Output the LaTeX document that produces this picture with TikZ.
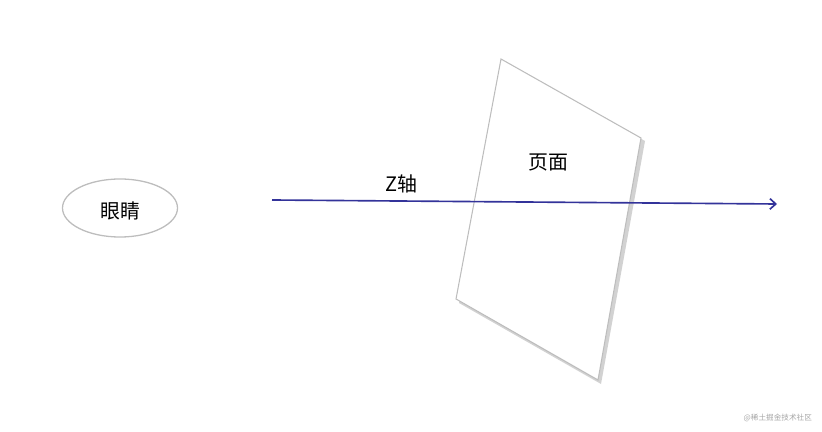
\documentclass[tikz,border=0pt]{standalone}
\usepackage{fontspec}
\newfontfamily\cjk{Noto Sans CJK SC}
\usetikzlibrary{arrows.meta, shapes.geometric}
\definecolor{axisblue}{HTML}{33339A}
\definecolor{edgegray}{HTML}{BDBDBD}

\begin{document}
\begin{tikzpicture}[x=0.03cm, y=-0.03cm]
	\useasboundingbox (0,0) rectangle (822,432);
	% Eye
	\node[ellipse, draw=edgegray, line width=1.1pt, minimum width=3.45cm, minimum height=1.74cm, inner sep=0pt] (eye) at (120,208) {};
	\node (eyetext) at (120,211) {\cjk\fontsize{17}{20}\selectfont 眼睛};
	% Page with its shadow
	\fill[gray!35] (504,62) -- (645,141) -- (601,384) -- (459,303) -- cycle;
	\filldraw[fill=white, draw=edgegray, line width=0.9pt] (501,59) -- (641,138) -- (598,380) -- (456,299) -- cycle;
	\node (page) at (548,163) {\cjk\fontsize{17}{20}\selectfont 页面};
	% Z axis
	\coordinate (zstart) at (272,200);
	\coordinate (zend) at (777,204);
	\draw[axisblue, line width=1.4pt, -{Straight Barb[length=5pt, width=9pt]}] (zstart) -- (zend);
	\node (zlabel) at (401,184) {\cjk\fontsize{17}{20}\selectfont Z轴};
	% Watermark
	\node[text=gray!70, anchor=east] (mark) at (816,418) {\cjk\fontsize{6.5}{8}\selectfont @稀土掘金技术社区};
\end{tikzpicture}
\end{document}
